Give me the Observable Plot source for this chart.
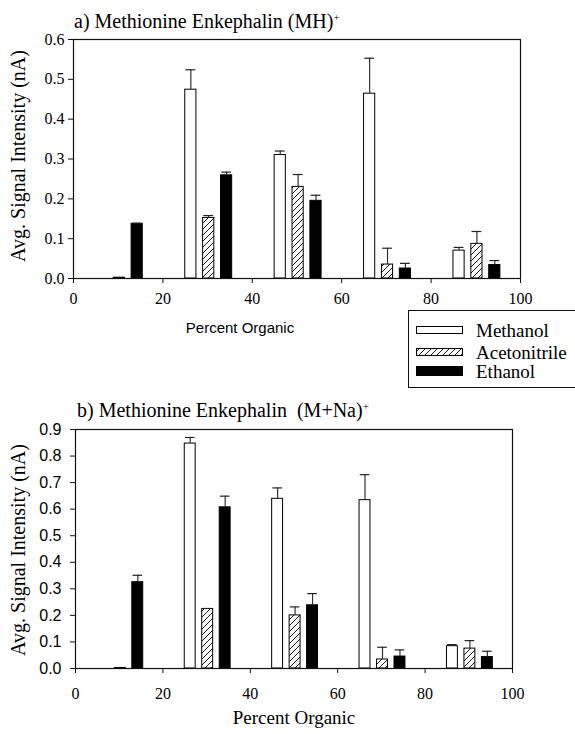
<!DOCTYPE html>
<html><head><meta charset="utf-8">
<script src="https://cdn.jsdelivr.net/npm/d3@7"></script>
<script src="https://cdn.jsdelivr.net/npm/@observablehq/plot@0.6"></script>
<style>
body{margin:0;background:#fff;overflow:hidden;}
#wrap{position:relative;width:575px;height:734px;overflow:hidden;font-family:"Liberation Serif","Times New Roman",serif;color:#000;background:#fff;}
.abs{position:absolute;white-space:nowrap;line-height:1;}
.sup{position:relative;top:-0.6em;font-size:0.55em;}
</style></head><body><div id="wrap"></div>
<script>
// ---- data ----
const percentOrganic = [10, 30, 50, 70, 90];
const solvents = ["Methanol", "Acetonitrile", "Ethanol"];
const xTicks = [0, 20, 40, 60, 80, 100];
const yTicksA = [0, 0.1, 0.2, 0.3, 0.4, 0.5, 0.6];
const yTicksB = [0, 0.1, 0.2, 0.3, 0.4, 0.5, 0.6, 0.7, 0.8, 0.9];

// a) (MH)+
const mhMethanol        = [0,     0.474, 0.310, 0.464, 0.070];
const mhMethanolErr     = [0,     0.050, 0.010, 0.089, 0.008];
const mhAcetonitrile    = [0.002, 0.152, 0.230, 0.035, 0.087];
const mhAcetonitrileErr = [0,     0.006, 0.031, 0.041, 0.031];
const mhEthanol         = [0.137, 0.259, 0.195, 0.025, 0.034];
const mhEthanolErr      = [0.002, 0.008, 0.014, 0.013, 0.011];

// b) (M+Na)+
const naMethanol        = [0,     0.847, 0.639, 0.634, 0.084];
const naMethanolErr     = [0,     0.023, 0.041, 0.096, 0.006];
const naAcetonitrile    = [0.002, 0.224, 0.200, 0.034, 0.075];
const naAcetonitrileErr = [0,     0.002, 0.032, 0.046, 0.030];
const naEthanol         = [0.325, 0.607, 0.238, 0.045, 0.043];
const naEthanolErr      = [0.026, 0.042, 0.044, 0.025, 0.022];

// ---- helpers ----
function rowsOf(vals, errs) {
  const out = [];
  vals.forEach((v, k) => percentOrganic.forEach((p, i) => out.push({solvent: solvents[k], k, p, v: v[i], e: errs[k][i]})));
  return out;
}
const SERIF = "Liberation Serif";
const SANS = "Liberation Sans";
const BW = 2.5; // bar width in % units
const left = d => d.p - 5 + 4 * d.k;
const mid = d => left(d) + BW / 2;

function hatchDefs(id) {
  return () => {
    const defs = d3.create("svg:defs");
    const pat = defs.append("pattern").attr("id", id).attr("patternUnits", "userSpaceOnUse")
      .attr("width", 6).attr("height", 6);
    pat.append("rect").attr("width", 6).attr("height", 6).attr("fill", "white");
    pat.append("path").attr("d", "M-1,1 L1,-1 M0,6 L6,0 M5,7 L7,5")
      .attr("stroke", "black").attr("stroke-width", 0.9);
    return defs.node();
  };
}

function panel({rows, yDomain, yTicks, height, margins, id, yFont, xPad, yPad}) {
  const fills = ["white", `url(#${id})`, "black"];
  const withErr = rows.filter(d => d.e > 0);
  const svg = Plot.plot({
    width: 575, height,
    marginLeft: margins[0], marginRight: margins[1], marginTop: margins[2], marginBottom: margins[3],
    style: {fontSize: "16px", background: "transparent", color: "black"},
    x: {domain: [0, 100]},
    y: {domain: yDomain},
    marks: [
      hatchDefs(id),
      Plot.rectY(rows, {x1: left, x2: d => left(d) + BW, y: "v", fill: d => fills[d.k], stroke: "black", strokeWidth: 1}),
      Plot.ruleX(withErr, {x: mid, y1: "v", y2: d => d.v + d.e, stroke: "#333", strokeWidth: 1.2}),
      Plot.ruleY(withErr, {y: d => d.v + d.e, x1: d => mid(d) - 1.1, x2: d => mid(d) + 1.1, stroke: "#222", strokeWidth: 1.2}),
      Plot.frame({stroke: "#111", strokeWidth: 1.2}),
      Plot.axisX({ticks: xTicks, tickFormat: d => String(d), tickSize: 5, tickPadding: xPad, label: null, fontSize: 16, fontFamily: SERIF, fill: "black", stroke: "#111"}),
      Plot.axisY({ticks: yTicks, tickFormat: d3.format(".1f"), tickSize: 5, tickPadding: yPad, label: null, fontSize: 16, fontFamily: yFont, fill: "black", stroke: "#111"})
    ]
  });
  return svg;
}

const wrap = document.getElementById("wrap");
function addAbs(html, css, parent = wrap) {
  const d = document.createElement("div");
  d.className = "abs";
  d.innerHTML = html;
  Object.assign(d.style, css);
  parent.appendChild(d);
  return d;
}

// ---- top panel ----
const topBox = addAbs("", {left: "0px", top: "0px"});
topBox.appendChild(panel({
  rows: rowsOf([mhMethanol, mhAcetonitrile, mhEthanol], [mhMethanolErr, mhAcetonitrileErr, mhEthanolErr]),
  yDomain: [0, 0.6], yTicks: yTicksA, height: 345, margins: [73, 55, 39, 67], id: "hatchA", yFont: SERIF, xPad: 9, yPad: 4
}));

// ---- bottom panel ----
const botBox = addAbs("", {left: "0px", top: "345px"});
botBox.appendChild(panel({
  rows: rowsOf([naMethanol, naAcetonitrile, naEthanol], [naMethanolErr, naAcetonitrileErr, naEthanolErr]),
  yDomain: [0, 0.9], yTicks: yTicksB, height: 389, margins: [75, 63, 84, 66], id: "hatchB", yFont: SANS, xPad: 14, yPad: 9
}));

// ---- titles ----
addAbs('a) Methionine Enkephalin (MH)<span class="sup">+</span>', {left: "74px", top: "11px", fontSize: "20px"});
addAbs('b) Methionine Enkephalin&nbsp; (M+Na)<span class="sup">+</span>', {left: "77px", top: "400px", fontSize: "20px"});

// y-axis titles
addAbs("Avg. Signal Intensity (nA)", {left: "18px", top: "156px", fontSize: "20px", transform: "translate(-50%,-50%) rotate(-90deg)"});
addAbs("Avg. Signal Intensity (nA)", {left: "18px", top: "550px", fontSize: "20px", transform: "translate(-50%,-50%) rotate(-90deg)"});

// x-axis titles
addAbs("Percent Organic", {left: "240px", top: "320px", fontSize: "15px", fontFamily: '"Liberation Sans", Arial, sans-serif', transform: "translateX(-50%)"});
addAbs("Percent Organic", {left: "294px", top: "708px", fontSize: "19px", transform: "translateX(-50%)"});

// ---- legend ----
const leg = addAbs("", {left: "408px", top: "310px", width: "200px", height: "76px", border: "1.5px solid #111", background: "white"});
const legItems = [
  {name: solvents[0], y: 16, h: 7, fill: "white"},
  {name: solvents[1], y: 38, h: 7, fill: "url(#hatchLeg)"},
  {name: solvents[2], y: 56, h: 9, fill: "black"}
];
const lsvg = d3.create("svg").attr("width", 70).attr("height", 76).style("position", "absolute").style("left", "0px").style("top", "0px");
lsvg.append(hatchDefs("hatchLeg"));
legItems.forEach(it => {
  lsvg.append("rect").attr("x", 7.5).attr("y", it.y - 0.5).attr("width", 46).attr("height", it.h)
    .attr("fill", it.fill).attr("stroke", "black").attr("stroke-width", 1);
  addAbs(it.name, {left: "67px", top: (it.y + it.h / 2 - 10) + "px", fontSize: "19px"}, leg);
});
leg.appendChild(lsvg.node());
</script></body></html>
